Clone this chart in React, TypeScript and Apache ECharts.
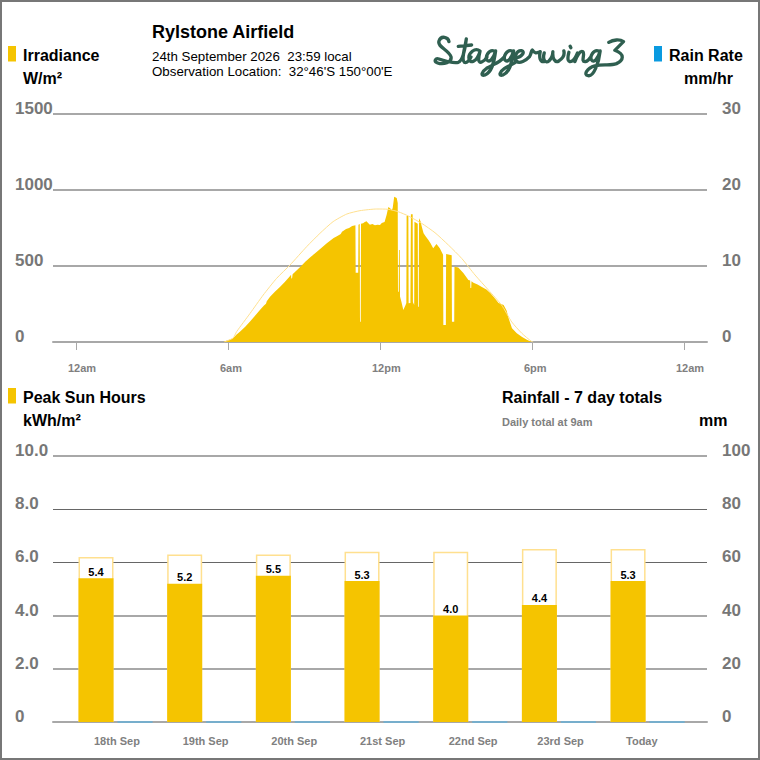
import React, { useEffect, useRef } from "react";
import * as echarts from "echarts";

const FONT = "'Liberation Sans', Arial, sans-serif";
const YELLOW = "#f5c400";
const PALE = "#ffe08f";
const BLUE = "#0a9ae0";
const RAIN_LINE = "#66b0d8";
const AXIS_GRAY = "#777777";
const XLABEL_GRAY = "#808080";
const GRID_SOFT = "#a8a8a8";
const GRID_DARK = "#666666";

// Top chart
const timeTickHours = [0, 6, 12, 18, 24];
const timeLabels = ["12am", "6am", "12pm", "6pm", "12am"];
const irradianceTicks = ["0", "500", "1000", "1500"];
const rainRateTicks = ["0", "10", "20", "30"];

const irradianceHours = [
  5.82, 5.88, 6.05, 6.2, 6.34, 6.47, 6.68, 6.87, 7.05, 7.26, 7.42, 7.5, 7.53, 7.66, 7.85, 8.05, 8.25, 8.4, 8.49, 8.5, 8.53, 8.55,
  8.87, 9.05, 9.26, 9.45, 9.66, 9.9, 10.17, 10.3, 10.45, 10.5, 10.66, 10.78, 10.9, 11.03, 11.04, 11.14, 11.15, 11.2, 11.21, 11.24, 11.25,
  11.33, 11.4, 11.47, 11.52, 11.6, 11.7, 11.8, 11.9, 12.0, 12.07, 12.18, 12.26, 12.33, 12.4, 12.46, 12.5, 12.56, 12.66, 12.7,
  12.71, 12.74, 12.75, 12.78, 12.79, 12.85, 12.92, 13.01, 13.04, 13.05, 13.12, 13.13, 13.2, 13.22, 13.29, 13.3, 13.35,
  13.36, 13.49, 13.5, 13.53, 13.54, 13.6, 13.65, 13.72, 13.8, 13.91, 14.0, 14.1, 14.23, 14.36, 14.49, 14.5, 14.6, 14.61, 14.83,
  14.84, 14.93, 14.94, 15.09, 15.29, 15.49, 15.56, 15.57, 15.6, 15.61, 15.69, 15.85, 16.02, 16.2, 16.35, 16.5, 16.68, 16.88,
  17.0, 17.08, 17.21, 17.4, 17.61, 17.8, 17.94, 18.0,
];
const irradianceValues = [
  0, 5, 14, 25, 50, 68, 100, 135, 170, 210, 240, 252, 268, 298, 330, 362, 396, 425, 442, 418, 420, 445,
  497, 528, 560, 585, 615, 650, 685, 695, 710, 725, 743, 750, 763, 768, 456, 456, 772, 776, 134, 134, 778,
  782, 790, 795, 785, 772, 776, 768, 772, 770, 783, 790, 835, 888, 880, 868, 880, 955, 947, 914,
  331, 331, 605, 605, 300, 262, 210, 243, 256, 829, 829, 255, 256, 840, 840, 262, 243,
  791, 778, 232, 232, 814, 795, 759, 715, 695, 671, 648, 616, 645, 616, 574, 112, 112, 579, 570,
  134, 134, 495, 490, 454, 408, 405, 355, 355, 400, 390, 378, 362, 345, 322, 295, 257, 243,
  205, 155, 90, 58, 33, 14, 4, 0,
];

const clearSkyHours = [
  5.85, 6.2, 6.34, 6.87, 7.39, 7.92, 8.45, 9.11, 9.63, 10.15, 10.69, 11.21, 11.87, 12.32, 12.72, 13.12, 13.65, 14.17, 14.7, 15.23,
  15.75, 16.28, 16.8, 17.2, 17.6, 17.97, 18.05,
];
const clearSkyValues = [
  0, 26, 68, 188, 309, 419, 507, 628, 715, 792, 842, 864, 875, 873, 857, 829, 780, 719, 638, 549,
  441, 342, 243, 132, 57, 5, 0,
];

// Bottom chart
const dayLabels = ["18th Sep", "19th Sep", "20th Sep", "21st Sep", "22nd Sep", "23rd Sep", "Today"];
const peakSunHours = [5.4, 5.2, 5.5, 5.3, 4.0, 4.4, 5.3];
const clearSkySunHours = [6.2, 6.3, 6.3, 6.4, 6.4, 6.5, 6.5];
const rainfallTotals = [0, 0, 0, 0, 0, 0, 0];
const sunHourTicks = ["0", "2.0", "4.0", "6.0", "8.0", "10.0"];
const rainfallTicks = ["0", "20", "40", "60", "80", "100"];
const RAIN_BAR_OFFSET = 0.44;

const STATION = "Rylstone Airfield";
const DATE_LINE = "24th September 2026  23:59 local";
const LOCATION_LINE = "Observation Location:  32°46'S 150°00'E";

const LOGO_PATH =
  "M72 50 C70 36 48 30 42 48 C36 66 72 75 78 95 C82 112 55 120 38 114 C26 110 30 98 42 102 C60 108 85 116 100 112 C110 108 118 92 124 42 " +
  "M124 42 C120 70 108 104 118 112 C126 116 134 104 138 96 M100 64 L140 60 " +
  "M165 78 C150 66 130 85 132 100 C134 118 155 112 165 80 C160 100 158 118 172 110 C180 106 184 100 186 96 " +
  "M208 78 C192 72 180 95 186 105 C194 115 206 100 212 78 C207 115 200 142 180 150 C166 155 170 140 185 130 C205 118 225 112 236 98 " +
  "M262 78 C246 72 234 95 240 105 C248 115 260 100 266 78 C261 115 254 142 234 150 C220 155 224 140 239 130 C255 120 268 118 276 108 " +
  "M276 98 C290 96 302 80 290 77 C275 75 264 100 275 110 C285 116 302 108 314 95 C320 86 318 78 322 75 C330 88 336 84 346 80 " +
  "M346 80 C342 98 346 112 358 110 " +
  "M358 84 C352 105 362 116 372 108 C380 100 384 90 384 80 C382 100 390 115 402 108 C414 100 420 90 417 78 " +
  "M432 82 C426 105 430 114 442 108 C450 104 454 94 458 84 C454 95 450 102 450 110 C456 92 466 76 474 80 C482 86 466 112 482 110 C490 108 494 102 498 96 " +
  "M436 64 L438 68 " +
  "M522 78 C506 72 494 95 500 105 C507 116 520 100 526 78 C522 115 506 156 490 152 C475 150 486 130 510 123 C535 116 556 124 575 116 C596 106 602 88 570 76 L596 50 C585 42 565 44 552 52";

function App() {
  const ref = useRef<HTMLDivElement | null>(null);

  useEffect(() => {
    echarts.graphic.registerShape("staggerwingLogo", echarts.graphic.extendPath(LOGO_PATH, {}) as any);
    const chart = echarts.init(ref.current as HTMLDivElement, undefined, { renderer: "svg" });

    const text = (x: number, y: number, t: string, font: string, fill = "#000") => ({
      type: "text",
      x,
      y,
      silent: true,
      style: { text: t, font, fill, align: "left", verticalAlign: "middle" },
    });
    const swatch = (x: number, y: number, fill: string) => ({
      type: "rect",
      silent: true,
      shape: { x, y, width: 8, height: 15.5 },
      style: { fill },
    });

    const valueAxisLabel = (margin: number, labels: string[], step: number) => ({
      show: true,
      margin,
      align: "left",
      verticalAlign: "bottom",
      lineHeight: 11,
      color: AXIS_GRAY,
      fontFamily: FONT,
      fontWeight: "bold",
      fontSize: 17,
      formatter: (v: number) => labels[Math.round(v / step)],
    });
    const softSplit = { show: true, lineStyle: { color: GRID_SOFT, width: 2 } };
    const hiddenAxisParts = { axisLine: { show: false }, axisTick: { show: false } };
    const baseLine = { show: true, onZero: false, lineStyle: { color: GRID_SOFT, width: 2 } };
    const xLabel = {
      show: true,
      align: "left",
      color: XLABEL_GRAY,
      fontFamily: FONT,
      fontWeight: "bold",
      fontSize: 11,
    };

    chart.setOption({
      animation: false,
      backgroundColor: "#fff",
      grid: [
        { left: 53, width: 654, top: 114, height: 228 },
        { left: 53, width: 654, top: 456, height: 266 },
        { left: 53, width: 654, top: 509.2, height: 53.2 },
      ],
      xAxis: [
        {
          gridIndex: 0, type: "value", min: -0.908, max: 24.908, position: "bottom",
          axisLine: baseLine,
          axisTick: { show: true, length: 8, customValues: timeTickHours, lineStyle: { color: GRID_SOFT, width: 1 } },
          axisLabel: { show: false },
          splitLine: { show: false },
        },
        {
          gridIndex: 0, type: "value", min: -0.592, max: 25.224, position: "bottom",
          ...hiddenAxisParts,
          axisLabel: {
            ...xLabel, margin: 20, customValues: timeTickHours,
            formatter: (v: number) => timeLabels[timeTickHours.indexOf(v)],
          },
          splitLine: { show: false },
        },
        {
          gridIndex: 1, type: "value", min: -0.485, max: 6.89, position: "bottom",
          axisLine: baseLine,
          axisTick: { show: false },
          axisLabel: { show: false },
          splitLine: { show: false },
        },
        {
          gridIndex: 1, type: "value", min: -0.4624, max: 6.9134, position: "bottom",
          ...hiddenAxisParts,
          axisLabel: {
            ...xLabel, margin: 13, customValues: dayLabels.map((_, i) => i),
            formatter: (v: number) => dayLabels[v],
          },
          splitLine: { show: false },
        },
        {
          gridIndex: 2, type: "value", min: 0, max: 1, show: false,
        },
      ],
      yAxis: [
        {
          gridIndex: 0, type: "value", min: 0, max: 1500, interval: 500,
          position: "left", ...hiddenAxisParts, splitLine: softSplit,
          axisLabel: valueAxisLabel(38, irradianceTicks, 500),
        },
        {
          gridIndex: 0, type: "value", min: 0, max: 30, interval: 10,
          position: "right", ...hiddenAxisParts, splitLine: { show: false },
          axisLabel: valueAxisLabel(15, rainRateTicks, 10),
        },
        {
          gridIndex: 1, type: "value", min: 0, max: 10, interval: 2,
          position: "left", ...hiddenAxisParts,
          splitLine: {
            show: true,
            lineStyle: { color: [GRID_SOFT, GRID_SOFT, GRID_SOFT, "transparent", "transparent", GRID_SOFT], width: 2 },
          },
          axisLabel: valueAxisLabel(38, sunHourTicks, 2),
        },
        {
          gridIndex: 1, type: "value", min: 0, max: 100, interval: 20,
          position: "right", ...hiddenAxisParts, splitLine: { show: false },
          axisLabel: valueAxisLabel(15, rainfallTicks, 20),
        },
        {
          gridIndex: 2, type: "value", min: 6, max: 8, interval: 2,
          ...hiddenAxisParts, axisLabel: { show: false },
          splitLine: { show: true, lineStyle: { color: GRID_DARK, width: 1 } },
        },
      ],
      series: [
        {
          name: "Irradiance", type: "line", xAxisIndex: 0, yAxisIndex: 0,
          showSymbol: false, silent: true,
          lineStyle: { width: 0 },
          itemStyle: { color: YELLOW },
          areaStyle: { color: YELLOW, opacity: 1 },
          data: irradianceHours.map((h, i) => [h, irradianceValues[i]]),
        },
        {
          name: "Clear sky", type: "line", xAxisIndex: 0, yAxisIndex: 0,
          showSymbol: false, silent: true, smooth: 0.2,
          lineStyle: { width: 1, color: PALE },
          data: clearSkyHours.map((h, i) => [h, clearSkyValues[i]]),
        },
        {
          name: "Clear sky sun hours", type: "bar", xAxisIndex: 2, yAxisIndex: 2,
          barWidth: 35, barGap: "-100%", silent: true,
          itemStyle: { color: "#fff", borderColor: PALE, borderWidth: 1.5 },
          data: clearSkySunHours.map((v, i) => [i, v]),
        },
        {
          name: "Peak Sun Hours", type: "bar", xAxisIndex: 2, yAxisIndex: 2,
          barWidth: 35, barGap: "-100%", silent: true,
          itemStyle: { color: YELLOW },
          label: {
            show: true, position: "top", distance: 1, color: "#000",
            fontFamily: FONT, fontWeight: "bold", fontSize: 11,
            formatter: (p: any) => p.value[1].toFixed(1),
          },
          data: peakSunHours.map((v, i) => [i, v]),
        },
        {
          name: "Rainfall", type: "bar", xAxisIndex: 2, yAxisIndex: 3,
          barWidth: 35, barGap: "-100%", silent: true, clip: false, z: 5,
          itemStyle: { color: RAIN_LINE, borderColor: RAIN_LINE, borderWidth: 1 },
          data: rainfallTotals.map((v, i) => [i + RAIN_BAR_OFFSET, v]),
        },
      ],
      graphic: [
        swatch(8, 46, YELLOW),
        swatch(654, 46, BLUE),
        swatch(8, 388, YELLOW),
        text(23, 55, "Irradiance", `bold 16px ${FONT}`),
        text(23, 78, "W/m²", `bold 16px ${FONT}`),
        text(669, 55, "Rain Rate", `bold 16px ${FONT}`),
        text(684, 78, "mm/hr", `bold 16px ${FONT}`),
        text(152, 32, STATION, `bold 18px ${FONT}`),
        text(152, 56, DATE_LINE, `13.3px ${FONT}`),
        text(152, 71, LOCATION_LINE, `13.3px ${FONT}`),
        text(23, 397, "Peak Sun Hours", `bold 16px ${FONT}`),
        text(23, 420, "kWh/m²", `bold 16px ${FONT}`),
        text(502, 397, "Rainfall - 7 day totals", `bold 16px ${FONT}`),
        text(502, 422, "Daily total at 9am", `bold 11px ${FONT}`, XLABEL_GRAY),
        text(699, 420, "mm", `bold 16px ${FONT}`),
        {
          type: "staggerwingLogo",
          x: 425, y: 25, scaleX: 1 / 3, scaleY: 1 / 3, silent: true,
          style: { fill: "none", stroke: "#2f5f50", lineWidth: 10, lineCap: "round", lineJoin: "round" },
        },
        {
          type: "rect", silent: true,
          shape: { x: 1, y: 1, width: 758, height: 758 },
          style: { fill: "none", stroke: "#777", lineWidth: 2 },
        },
      ],
    } as any);

    return () => chart.dispose();
  }, []);

  return <div ref={ref} style={{ position: "fixed", left: 0, top: 0, width: 760, height: 760 }} />;
}

export default App;
